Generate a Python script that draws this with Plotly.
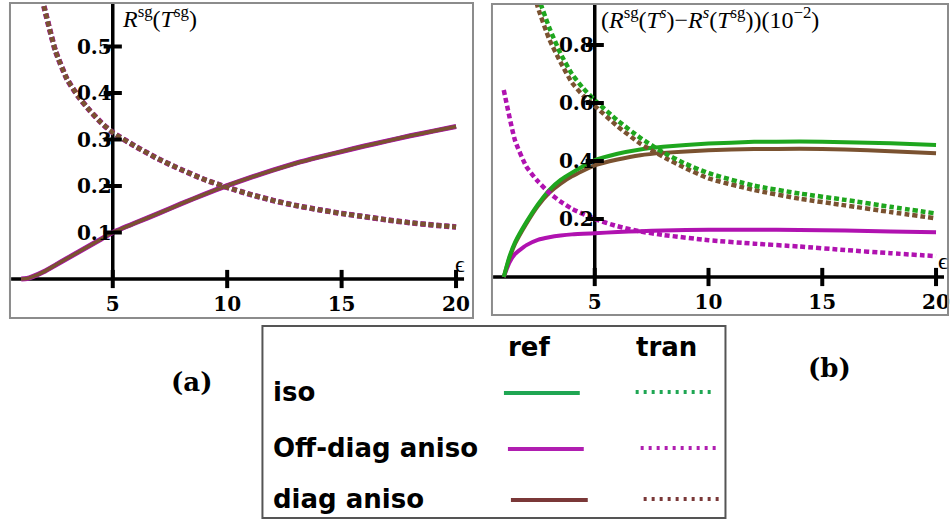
import plotly.graph_objects as go

W, H = 952, 523

# ---------------- data ----------------
# panel (a): R^sg(T^sg) vs epsilon (all three cases coincide)
eps_a = [1, 1.25, 1.5, 2, 2.5, 3, 3.5, 4, 4.5, 5, 6, 7, 8, 9, 10, 11, 12, 13, 14, 15, 16, 17, 18, 19, 20]
ref_a = [0, 0.001, 0.005, 0.016, 0.030, 0.044, 0.058, 0.072, 0.086, 0.100, 0.121, 0.141, 0.162, 0.182, 0.201,
         0.218, 0.234, 0.249, 0.262, 0.274, 0.286, 0.297, 0.308, 0.318, 0.328]
eps_a_tr = [1.5, 1.8, 2, 2.5, 3, 3.5, 4, 4.5, 5, 6, 7, 8, 9, 10, 11, 12, 13, 14, 15, 16, 17, 18, 19, 20]
tran_a = [0.74, 0.63, 0.585, 0.49, 0.43, 0.392, 0.362, 0.336, 0.315, 0.285, 0.258, 0.235, 0.214, 0.197,
          0.182, 0.169, 0.158, 0.149, 0.141, 0.134, 0.127, 0.121, 0.116, 0.112]

# panel (b): (R^sg(T^s) - R^s(T^sg)) x 10^-2
eps_b = [1, 1.25, 1.5, 2, 2.5, 3, 3.5, 4, 5, 6, 7, 8, 10, 12, 14, 16, 18, 20]
iso_ref_b = [0, 0.07, 0.12, 0.19, 0.25, 0.30, 0.335, 0.36, 0.403, 0.425, 0.44, 0.449, 0.46, 0.466, 0.467, 0.465, 0.461, 0.455]
off_ref_b = [0, 0.05, 0.08, 0.11, 0.128, 0.137, 0.143, 0.147, 0.151, 0.155, 0.158, 0.16, 0.163, 0.163, 0.162, 0.16, 0.157, 0.154]
diag_ref_b = [0, 0.065, 0.115, 0.185, 0.245, 0.29, 0.322, 0.347, 0.385, 0.405, 0.42, 0.428, 0.437, 0.441, 0.442, 0.44, 0.434, 0.427]

eps_b_tr = [2, 2.5, 3, 3.5, 4, 4.5, 5, 6, 7, 8, 9, 10, 12, 14, 16, 18, 20]
iso_tr_b = [1.10, 0.97, 0.86, 0.77, 0.70, 0.65, 0.61, 0.54, 0.48, 0.43, 0.39, 0.358, 0.315, 0.288, 0.266, 0.242, 0.219]
diag_tr_b = [1.08, 0.93, 0.82, 0.74, 0.67, 0.625, 0.59, 0.52, 0.46, 0.415, 0.375, 0.34, 0.30, 0.27, 0.247, 0.224, 0.202]
eps_b_off = [1, 1.5, 2, 2.5, 3, 3.5, 4, 5, 6, 7, 8, 10, 12, 14, 16, 18, 20]
off_tr_b = [0.645, 0.47, 0.38, 0.33, 0.29, 0.26, 0.235, 0.20, 0.175, 0.157, 0.145, 0.127, 0.115, 0.105, 0.093, 0.082, 0.072]

xticks = [5, 10, 15, 20]
yticks_a = [0.1, 0.2, 0.3, 0.4, 0.5]
yticks_b = [0.2, 0.4, 0.6, 0.8]

# ---------------- styles ----------------
GREEN = "#1ea61e"
MAG = "#b012b0"
BROWN = "#7a5230"
LG_GREEN = "#1fa653"
LG_MAG = "#b01eb0"
LG_BROWN = "#7a3838"
FRAME = "#8c8c8c"
SERIF = "Liberation Serif"
BSERIF = "DejaVu Serif"
SANS = "DejaVu Sans"


def px2paper_x(p):
    return p / W


def px2paper_y(p):
    return 1 - p / H


def calib(p_left, p_right, p_a, v_a, p_b, v_b):
    s = (v_b - v_a) / (p_b - p_a)
    return [v_a + (p_left - p_a) * s, v_a + (p_right - p_a) * s]


# panel boxes in pixels (left, top, right, bottom)
box_a = (10, 3, 474, 318)
box_b = (493, 4, 950, 315)

xr_a = calib(box_a[0], box_a[2], 113, 5, 457, 20)
yr_a = calib(box_a[3], box_a[1], 279, 0, 46.5, 0.5)
xr_b = calib(box_b[0], box_b[2], 596, 5, 938, 20)
yr_b = calib(box_b[3], box_b[1], 277, 0, 45, 0.8)

fig = go.Figure()


def add_line(x, y, color, width, dash, xa, ya):
    fig.add_trace(go.Scatter(x=x, y=y, mode="lines", xaxis=xa, yaxis=ya, showlegend=False,
                             line=dict(color=color, width=width, dash=dash, shape="spline", smoothing=0.5),
                             hoverinfo="skip"))


DASH = "5px,3px"
# panel (a)
add_line(eps_a, ref_a, GREEN, 4, "solid", "x", "y")
add_line(eps_a, ref_a, MAG, 5, "solid", "x", "y")
add_line(eps_a, ref_a, BROWN, 3.6, "solid", "x", "y")
add_line(eps_a_tr, tran_a, GREEN, 5, DASH, "x", "y")
add_line(eps_a_tr, tran_a, MAG, 5.6, DASH, "x", "y")
add_line(eps_a_tr, tran_a, BROWN, 4.6, DASH, "x", "y")

# panel (b)
add_line(eps_b, off_ref_b, MAG, 4, "solid", "x2", "y2")
add_line(eps_b, diag_ref_b, BROWN, 4, "solid", "x2", "y2")
add_line(eps_b, iso_ref_b, GREEN, 4, "solid", "x2", "y2")
add_line(eps_b_off, off_tr_b, MAG, 4.5, DASH, "x2", "y2")
add_line(eps_b_tr, diag_tr_b, BROWN, 4.5, DASH, "x2", "y2")
add_line(eps_b_tr, iso_tr_b, GREEN, 4.5, DASH, "x2", "y2")

# tick marks (crossing the axes)
for xa, ya, yt in (("x", "y", yticks_a), ("x2", "y2", yticks_b)):
    fig.add_trace(go.Scatter(x=xticks, y=[0] * len(xticks), mode="markers", xaxis=xa, yaxis=ya,
                             showlegend=False, hoverinfo="skip", cliponaxis=False,
                             marker=dict(symbol="line-ns", size=13, line=dict(color="black", width=4))))
    fig.add_trace(go.Scatter(x=[5] * len(yt), y=yt, mode="markers", xaxis=xa, yaxis=ya,
                             showlegend=False, hoverinfo="skip", cliponaxis=False,
                             marker=dict(symbol="line-ew", size=13, line=dict(color="black", width=4))))

shapes = []
# axis lines
for xa, ya, xr, yr in (("x", "y", xr_a, yr_a), ("x2", "y2", xr_b, yr_b)):
    shapes.append(dict(type="line", xref=xa, yref=ya, x0=xr[0] + 0.05, x1=20.35, y0=0, y1=0,
                       line=dict(color="black", width=3.5), layer="below"))
    shapes.append(dict(type="line", xref=xa, yref=ya, x0=5, x1=5, y0=0, y1=yr[1],
                       line=dict(color="black", width=3.5), layer="below"))
# frames
for b in (box_a, box_b):
    shapes.append(dict(type="rect", xref="paper", yref="paper",
                       x0=px2paper_x(b[0]), x1=px2paper_x(b[2]), y0=px2paper_y(b[3]), y1=px2paper_y(b[1]),
                       line=dict(color=FRAME, width=2)))

# legend box
leg = (263, 326, 727, 518)
shapes.append(dict(type="rect", xref="paper", yref="paper",
                   x0=px2paper_x(leg[0]), x1=px2paper_x(leg[2]), y0=px2paper_y(leg[3]), y1=px2paper_y(leg[1]),
                   line=dict(color="#555555", width=2)))

leg_rows = [("iso", LG_GREEN, 392, (505, 581), (637, 714)),
            ("Off-diag aniso", LG_MAG, 448, (509, 585), (642, 720)),
            ("diag aniso", LG_BROWN, 499, (512, 589), (645, 722))]

annotations = []
for name, col, yy, r1, r2 in leg_rows:
    shapes.append(dict(type="line", xref="paper", yref="paper", x0=px2paper_x(r1[0]), x1=px2paper_x(r1[1]),
                       y0=px2paper_y(yy + 1), y1=px2paper_y(yy + 1), line=dict(color=col, width=4)))
    shapes.append(dict(type="line", xref="paper", yref="paper", x0=px2paper_x(r2[0]), x1=px2paper_x(r2[1]),
                       y0=px2paper_y(yy), y1=px2paper_y(yy), line=dict(color=col, width=4, dash="3px,5px")))
    annotations.append(dict(text=name, xref="paper", yref="paper", x=px2paper_x(272), y=px2paper_y(yy),
                            xanchor="left", yanchor="middle", showarrow=False,
                            font=dict(family=SANS, size=26, color="black", weight="bold")))

for txt, xc in (("ref", 530), ("tran", 668)):
    annotations.append(dict(text=txt, xref="paper", yref="paper", x=px2paper_x(xc), y=px2paper_y(347),
                            xanchor="center", yanchor="middle", showarrow=False,
                            font=dict(family=SANS, size=26, color="black", weight="bold")))

# panel labels
for txt, xc, yc in (("(a)", 192, 382), ("(b)", 831, 368)):
    annotations.append(dict(text=txt, xref="paper", yref="paper", x=px2paper_x(xc), y=px2paper_y(yc),
                            xanchor="center", yanchor="middle", showarrow=False,
                            font=dict(family=BSERIF, size=26, color="black", weight="bold")))

# axis titles
annotations.append(dict(text="<i>R</i><sup>sg</sup>(<i>T</i><sup>sg</sup>)", xref="paper", yref="paper",
                        x=px2paper_x(120), y=px2paper_y(17), xanchor="left", yanchor="middle", showarrow=False,
                        font=dict(family=SERIF, size=24, color="black")))
annotations.append(dict(text="(<i>R</i><sup>sg</sup>(<i>T</i><sup><i>s</i></sup>)\u2212<i>R</i><sup><i>s</i></sup>"
                             "(<i>T</i><sup>sg</sup>))(10<sup>\u22122</sup>)",
                        xref="paper", yref="paper",
                        x=px2paper_x(600), y=px2paper_y(18), xanchor="left", yanchor="middle", showarrow=False,
                        font=dict(family=SERIF, size=24, color="black")))
for xc, yc in ((461, 264), (945, 261)):
    annotations.append(dict(text="\u03f5", xref="paper", yref="paper", x=px2paper_x(xc), y=px2paper_y(yc),
                            xanchor="center", yanchor="middle", showarrow=False,
                            font=dict(family=SERIF, size=24, color="black")))

tickfont = dict(family=BSERIF, size=20, color="black", weight="bold")


def xax(box, xr, ypos_px):
    return dict(domain=[px2paper_x(box[0]), px2paper_x(box[2])], range=xr, anchor="free",
                position=px2paper_y(ypos_px), tickvals=xticks, ticktext=[str(v) for v in xticks],
                showgrid=False, zeroline=False, showline=False, ticks="", tickfont=tickfont,
                ticklabelstandoff=11, fixedrange=True)


def yax(box, yr, xpos_px, yt):
    return dict(domain=[px2paper_y(box[3]), px2paper_y(box[1])], range=yr, anchor="free",
                position=px2paper_x(xpos_px), tickvals=yt, ticktext=[f"{v:.1f}" for v in yt],
                showgrid=False, zeroline=False, showline=False, ticks="", tickfont=tickfont,
                ticklabelstandoff=1, fixedrange=True)


fig.update_layout(
    width=W, height=H, margin=dict(l=0, r=0, t=0, b=0),
    paper_bgcolor="white", plot_bgcolor="white",
    xaxis=xax(box_a, xr_a, 279), yaxis=yax(box_a, yr_a, 113, yticks_a),
    xaxis2=xax(box_b, xr_b, 277), yaxis2=yax(box_b, yr_b, 596, yticks_b),
    shapes=shapes, annotations=annotations, showlegend=False,
)

fig.write_html("out.html")
